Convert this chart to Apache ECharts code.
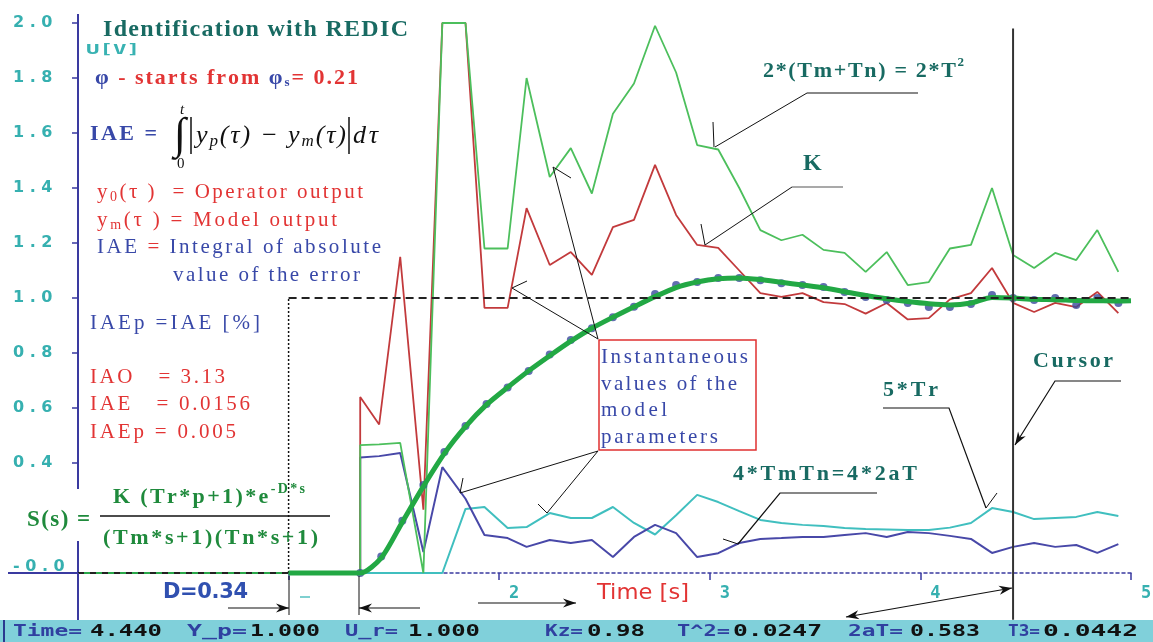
<!DOCTYPE html>
<html><head><meta charset="utf-8">
<script src="https://cdn.jsdelivr.net/npm/echarts@6/dist/echarts.min.js"></script>
<style>html,body{margin:0;padding:0;background:#fff}#c{width:1153px;height:642px}</style>
</head><body><div id="c"></div>
<script>
// ---------- DATA ----------
const xTickLabels = ['', '', '2', '3', '4', '5'];
const yTickLabels = ['-0.2', '-0.0', '', '0.4', '0.6', '0.8', '1.0', '1.2', '1.4', '1.6', '1.8', '2.0'];

const setTime  = [0, 1, 1, 5];
const setValue = [0, 0, 1, 1];

const processTime  = [1.34,1.44,1.54,1.64,1.74,1.84,1.94,2.04,2.14,2.24,2.34,2.44,2.54,2.64,2.74,2.84,2.94,3.04,3.14,3.24,3.34,3.44,3.54,3.64,3.74,3.84,3.94,4.04,4.14,4.24,4.34,4.44,4.54,4.64,4.74,4.84,4.94];
const processValue = [0.0,0.06,0.19,0.32,0.44,0.535,0.615,0.675,0.735,0.795,0.847,0.89,0.93,0.968,1.015,1.047,1.058,1.073,1.073,1.065,1.054,1.047,1.04,1.022,1.004,0.993,0.982,0.967,0.967,0.978,1.011,1.0,0.993,1.0,0.975,1.0,0.982];

const modelTime  = [0,1.0,1.34,1.44,1.54,1.64,1.74,1.84,1.94,2.04,2.14,2.24,2.34,2.44,2.54,2.64,2.74,2.84,2.94,3.04,3.14,3.24,3.34,3.44,3.54,3.64,3.74,3.84,3.94,4.04,4.14,4.24,4.34,4.44,4.54,4.64,4.74,4.84,4.94,5.0];
const modelValue = [0,0,0,0.055,0.185,0.315,0.435,0.532,0.612,0.675,0.735,0.79,0.843,0.89,0.93,0.968,1.005,1.038,1.058,1.07,1.073,1.067,1.057,1.047,1.037,1.023,1.009,0.997,0.987,0.979,0.975,0.982,1.002,1.0,0.995,0.994,0.991,0.99,0.989,0.99];

const paramTime = [1.34,1.34,1.43,1.53,1.64,1.73,1.84,1.93,2.04,2.13,2.24,2.34,2.44,2.54,2.64,2.74,2.84,2.94,3.04,3.14,3.24,3.34,3.44,3.54,3.64,3.74,3.84,3.94,4.04,4.14,4.24,4.34,4.44,4.54,4.64,4.74,4.84,4.94];
const kValue    = [0,0.64,0.54,1.15,0.23,2.0,2.0,0.964,0.964,1.327,1.12,1.167,1.084,1.258,1.284,1.484,1.302,1.193,1.182,1.10,1.018,1.004,1.018,0.985,0.978,0.943,0.982,0.922,0.927,0.995,1.018,1.109,0.982,0.949,0.982,0.967,1.022,0.945];
const tSumValue = [0,0.465,0.468,0.473,0.0,2.0,2.0,1.18,1.18,1.80,1.44,1.545,1.38,1.67,1.78,1.99,1.82,1.556,1.54,1.40,1.247,1.21,1.23,1.175,1.164,1.095,1.167,1.047,1.058,1.18,1.193,1.40,1.156,1.109,1.164,1.138,1.247,1.095];
const trValue   = [0,0,0,0,0,0,0.233,0.24,0.164,0.167,0.218,0.2,0.2,0.24,0.182,0.14,0.21,0.284,0.258,0.225,0.193,0.182,0.175,0.171,0.164,0.16,0.158,0.156,0.156,0.165,0.182,0.236,0.222,0.196,0.2,0.204,0.222,0.207];
const tmtnValue = [0,0.42,0.425,0.436,0.076,0.385,0.27,0.138,0.127,0.095,0.12,0.109,0.12,0.058,0.131,0.175,0.145,0.058,0.072,0.109,0.124,0.127,0.131,0.131,0.138,0.145,0.131,0.149,0.145,0.135,0.124,0.073,0.095,0.109,0.095,0.102,0.073,0.105];

const cursorTime = 4.44;
const cursorSpan = [1.98, -0.17];

// ---------- helpers ----------
const pairs = (t, v) => t.map((x, i) => [x, v[i]]);
const G = [];
const mctx = document.createElement('canvas').getContext('2d');
function mw(t, f) { mctx.font = f; return mctx.measureText(t).width; }
function runs(x, y, rs, target, z) {
  const chars = [];
  rs.forEach(r => { for (const ch of r.t) chars.push({ch, f: r.f, c: r.c, dy: r.dy || 0, w: mw(ch, r.f)}); });
  const nat = chars.reduce((s, c) => s + c.w, 0);
  const sp = target ? (target - nat) / (chars.length - 1) : 0;
  let cx = x;
  chars.forEach(c => {
    if (c.ch !== ' ') G.push({type: 'text', z: z || 60, x: cx, y: y + c.dy,
      style: {text: c.ch, font: c.f, fill: c.c, align: 'left', verticalAlign: 'middle'}});
    cx += c.w + sp;
  });
}
function scaled(x, y, t, f, c, target, z) {
  const w = mw(t, f);
  G.push({type: 'text', z: z || 110, x, y, scaleX: target / w,
    style: {text: t, font: f, fill: c, align: 'left', verticalAlign: 'middle'}});
}
function seg(x1, y1, x2, y2, c, w, z) {
  G.push({type: 'line', z: z || 60, shape: {x1, y1, x2, y2}, style: {stroke: c || '#111', lineWidth: w || 1}});
}
function poly(pts, c, w, z) {
  G.push({type: 'polyline', z: z || 60, shape: {points: pts}, style: {stroke: c || '#111', lineWidth: w || 1, fill: null}});
}
function head(x1, y1, x2, y2, len, hw, c) {
  len = len || 13; hw = hw || 4.5;
  const dx = x2 - x1, dy = y2 - y1, L = Math.hypot(dx, dy), ux = dx / L, uy = dy / L;
  const bx = x2 - ux * len, by = y2 - uy * len;
  const mx = x2 - ux * len * 0.7, my = y2 - uy * len * 0.7;
  G.push({type: 'polygon', z: 60, shape: {points: [[x2, y2], [bx - uy * hw, by + ux * hw], [mx, my], [bx + uy * hw, by - ux * hw]]},
    style: {fill: c || '#111'}});
}

// ---------- colours / fonts ----------
const TEAL = '#186a62', RED = '#e23434', BLUE = '#3848a8', GREEN = '#1f8a3c', CYANTXT = '#38b2b2';
const SB = s => 'bold ' + s + 'px "Liberation Serif", "DejaVu Serif"';
const SR = s => s + 'px "Liberation Serif", "DejaVu Serif"';
const SI = s => 'italic ' + s + 'px "Liberation Serif", "DejaVu Serif"';

// Title and left texts
runs(103, 30, [{t: 'Identification with REDIC', f: SB(24), c: TEAL}], 305);
scaled(86, 50, 'U[V]', 'bold 14px "DejaVu Sans Mono"', CYANTXT, 54, 60);
runs(95, 78, [
  {t: 'φ', f: SB(22), c: BLUE}, {t: ' - starts from ', f: SB(22), c: RED},
  {t: 'φ', f: SB(22), c: BLUE}, {t: 's', f: SB(13), c: BLUE, dy: 5}, {t: '= 0.21', f: SB(22), c: RED}], 263);
runs(90, 134, [{t: 'IAE =', f: SB(22), c: BLUE}], 67);
G.push({type: 'text', z: 60, x: 174, y: 136, style: {text: '∫', font: SR(44), fill: '#111', align: 'left', verticalAlign: 'middle'}});
runs(180, 110, [{t: 't', f: SI(15), c: '#111'}]);
runs(177, 164, [{t: '0', f: SR(15), c: '#111'}]);
seg(191, 117, 191, 154, '#111', 1.5);
seg(349, 117, 349, 154, '#111', 1.5);
runs(196, 136, [
  {t: 'y', f: SI(26), c: '#111'}, {t: 'p', f: SI(17), c: '#111', dy: 6}, {t: '(τ) − ', f: SI(26), c: '#111'},
  {t: 'y', f: SI(26), c: '#111'}, {t: 'm', f: SI(17), c: '#111', dy: 6}, {t: '(τ)', f: SI(26), c: '#111'}], 150);
runs(353, 136, [{t: 'dτ', f: SI(26), c: '#111'}], 25);

runs(97, 192, [{t: 'y', f: SR(21), c: RED}, {t: '0', f: SR(14), c: RED, dy: 5}, {t: '(τ )  = Operator output', f: SR(21), c: RED}], 266);
runs(97, 220, [{t: 'y', f: SR(21), c: RED}, {t: 'm', f: SR(14), c: RED, dy: 5}, {t: '(τ ) = Model output', f: SR(21), c: RED}], 240);
runs(97, 247, [{t: 'IAE ', f: SR(21), c: BLUE}, {t: '=', f: SR(21), c: RED}, {t: ' Integral of absolute', f: SR(21), c: BLUE}], 284);
runs(173, 275, [{t: 'value of the error', f: SR(21), c: BLUE}], 187);
runs(90, 323, [{t: 'IAEp =IAE [%]', f: SR(21), c: BLUE}], 170);
runs(90, 377, [{t: 'IAO   = 3.13', f: SR(21), c: RED}], 135);
runs(90, 404, [{t: 'IAE   = 0.0156', f: SR(21), c: RED}], 160);
runs(90, 432, [{t: 'IAEp = 0.005', f: SR(21), c: RED}], 146);

// white patch hiding axis behind transfer function
G.push({type: 'rect', z: 50, shape: {x: 66, y: 489, width: 22, height: 52}, style: {fill: '#fff'}});
runs(27, 520, [{t: 'S(s) =', f: SB(23), c: GREEN}], 63);
runs(113, 497, [{t: 'K (Tr*p+1)*e', f: SB(22), c: GREEN}, {t: '-D*s', f: SB(14), c: GREEN, dy: -8}], 192);
runs(103, 538, [{t: '(Tm*s+1)(Tn*s+1)', f: SB(22), c: GREEN}], 215);
seg(100, 516, 330, 516, '#111', 1.5);

// D arrows
runs(163, 593, [{t: 'D=0.34', f: 'bold 21px "DejaVu Sans"', c: '#3050b0'}], 85);
seg(289, 576, 289, 615); seg(359, 576, 359, 615);
seg(228, 608, 289, 608, '#111', 1.2); head(228, 608, 289, 608);
seg(420, 608, 359, 608, '#111', 1.2); head(420, 608, 359, 608);
seg(478, 603, 576, 603, '#111', 1.2); head(478, 603, 576, 603);
scaled(597, 593, 'Time [s]', '22px "DejaVu Sans"', RED, 92, 60);
seg(300, 597, 310, 597, '#7fd0d0', 2);

// bottom cursor double arrow
seg(846, 617, 1012, 588, '#111', 1.2); head(1012, 588, 846, 617); head(846, 617, 1012, 588);

// Instantaneous box
G.push({type: 'rect', z: 55, shape: {x: 599, y: 340, width: 157, height: 110}, style: {fill: '#fff', stroke: '#e03030', lineWidth: 1.5}});
runs(601, 357, [{t: 'Instantaneous', f: SR(21), c: BLUE}], 147);
runs(601, 384, [{t: 'values of the', f: SR(21), c: BLUE}], 136);
runs(601, 410, [{t: 'model', f: SR(21), c: BLUE}], 66);
runs(601, 437, [{t: 'parameters', f: SR(21), c: BLUE}], 117);
seg(598, 339, 512, 288); seg(512, 288, 527, 281);
seg(598, 339, 553, 167); seg(553, 167, 571, 178);
seg(598, 451, 460, 493); seg(460, 493, 463, 478);
seg(598, 451, 547, 513); seg(547, 513, 538, 504);

// parameter labels
runs(763, 71, [{t: '2*(Tm+Tn) = 2*T', f: SB(22), c: TEAL}, {t: '2', f: SB(13), c: TEAL, dy: -8}], 201);
poly([[918, 93], [807, 93]], '#888', 2); seg(807, 93, 715, 147); seg(713, 122, 714, 147);
runs(803, 164, [{t: 'K', f: SB(24), c: TEAL}]);
poly([[843, 187], [792, 187]], '#555', 1.2); seg(792, 187, 705, 245); seg(701, 224, 705, 245);
runs(883, 390, [{t: '5*Tr', f: SB(22), c: TEAL}], 55);
poly([[883, 408], [949, 408], [986, 508]], '#111', 1.2); seg(986, 508, 997, 493);
runs(1033, 361, [{t: 'Cursor', f: SB(22), c: TEAL}], 80);
poly([[1121, 381], [1055, 381], [1015, 445]], '#111', 1.2); head(1055, 381, 1015, 445);
runs(733, 474, [{t: '4*TmTn=4*2aT', f: SB(22), c: TEAL}], 184);
poly([[877, 493], [780, 493], [738, 544]], '#111', 1.2); seg(723, 539, 738, 544);

// axis extras: horizontal stub under "-0.0", axis top and the part below zero, hidden -0.2 label
seg(8, 573, 78, 573, '#3a3aa0', 2, 5);
seg(78, 14, 78, 24, '#3a3aa0', 2, 5);
seg(78, 573, 78, 620, '#3a3aa0', 2, 5);
seg(72, 628, 78, 628, '#3a3aa0', 1.5, 5);
G.push({type: 'text', z: 5, x: 13, y: 628, style: {text: yTickLabels[0].split('').join(' '),
  font: 'bold 16px "DejaVu Sans"', fill: '#36b0b0', align: 'left', verticalAlign: 'middle'}});

// status bar
G.push({type: 'rect', z: 100, shape: {x: 0, y: 620, width: 1153, height: 22}, style: {fill: '#80d0da'}});
seg(4, 620, 4, 642, '#2a3a90', 2, 101);
const SBF = 'bold 15px "DejaVu Sans Mono"';
const SL = '#3040a0', SV = '#111';
[['Time=', 13, 82, SL], ['4.440', 90, 162, SV], ['Y_p=', 187, 247, SL], ['1.000', 250, 320, SV],
 ['U_r=', 345, 398, SL], ['1.000', 408, 480, SV], ['Kz=', 545, 583, SL], ['0.98', 587, 645, SV],
 ['T^2=', 677, 730, SL], ['0.0247', 733, 822, SV], ['2aT=', 848, 903, SL], ['0.583', 910, 980, SV],
 ['T3=', 1008, 1040, SL], ['0.0442', 1043, 1138, SV]].forEach(a => scaled(a[1], 632, a[0], SBF, a[3], a[2] - a[1], 110));

// ---------- chart ----------
const chart = echarts.init(document.getElementById('c'), null, {renderer: 'canvas'});
const lineS = (name, data, color, width, extra) => Object.assign({
  name, type: 'line', data, symbol: 'none', animation: false, clip: false,
  lineStyle: {color, width}, itemStyle: {color}}, extra || {});

const setPts = pairs(setTime, setValue);
const modelPts = pairs(modelTime, modelValue);
const yLabelStyle = {color: '#36b0b0', fontFamily: 'DejaVu Sans', fontWeight: 'bold', fontSize: 16};

chart.setOption({
  animation: false,
  backgroundColor: '#fff',
  grid: {left: 78, right: 22, top: 23, bottom: 69, containLabel: false, outerBoundsMode: 'none'},
  xAxis: {
    type: 'value', min: 0, max: 5, interval: 1,
    axisLine: {onZero: false, lineStyle: {color: '#3a3aa0', width: 1.5, type: [3, 3]}},
    axisTick: {show: true, length: 7, lineStyle: {color: '#3a3aa0', width: 1.5}},
    splitLine: {show: false},
    axisLabel: {
      show: true, margin: 12,
      formatter: function (v) { const s = xTickLabels[Math.round(v)]; return s ? '{a|' + s + '}' : ''; },
      rich: {a: {color: '#36b0b0', fontFamily: 'DejaVu Sans Mono', fontWeight: 'bold', fontSize: 17, padding: [0, 0, 0, 30]}}
    }
  },
  yAxis: {
    type: 'value', min: 0, max: 2.0, interval: 0.2,
    axisLine: {show: true, onZero: false, lineStyle: {color: '#3a3aa0', width: 2}},
    axisTick: {show: true, length: 6, lineStyle: {color: '#3a3aa0', width: 1.5}},
    splitLine: {show: false},
    axisLabel: {
      formatter: function (v) {
        const i = Math.round((v + 0.2) / 0.2);
        const s = (yTickLabels[i] || '').split('').join(' ');
        if (!s) return '';
        return i === 1 ? '{z|' + s + '}' : '{n|' + s + '}';
      },
      rich: {n: yLabelStyle, z: Object.assign({padding: [0, 0, 12, 0]}, yLabelStyle)},
      align: 'left', margin: 65
    }
  },
  series: [
    lineS('Setpoint low', setPts.slice(0, 2), '#222', 2, {lineStyle: {color: '#222', width: 2, type: [6, 6]}, z: 3}),
    lineS('Model pre', modelPts.slice(0, 2), '#2aa84a', 2, {lineStyle: {color: '#2aa84a', width: 2, type: [6, 6], dashOffset: 6}, z: 3}),
    lineS('Setpoint rise', setPts.slice(1, 3), '#111', 1.5, {lineStyle: {color: '#111', width: 1.5, type: [2, 2]}, z: 3}),
    lineS('5*Tr', pairs(paramTime, trValue), '#40bfbf', 2),
    lineS('4*TmTn', pairs(paramTime, tmtnValue), '#4848a8', 2),
    lineS('K', pairs(paramTime, kValue), '#c23a3c', 1.8),
    lineS('2*(Tm+Tn)', pairs(paramTime, tSumValue), '#4cbf5c', 1.8),
    {name: 'Process output', type: 'scatter', data: pairs(processTime, processValue), symbol: 'circle', symbolSize: 8,
      itemStyle: {color: '#3a4a9c'}, z: 4, animation: false, clip: false},
    lineS('Model output', modelPts.slice(1), '#22a844', 5, {z: 5, smooth: 0.25}),
    lineS('Setpoint high', setPts.slice(2), '#222', 2, {lineStyle: {color: '#222', width: 2, type: [8, 5]}, z: 6}),
    lineS('Cursor', [[cursorTime, cursorSpan[0]], [cursorTime, cursorSpan[1]]], '#333', 2, {z: 7})
  ],
  graphic: {elements: G}
});
</script>
</body></html>
